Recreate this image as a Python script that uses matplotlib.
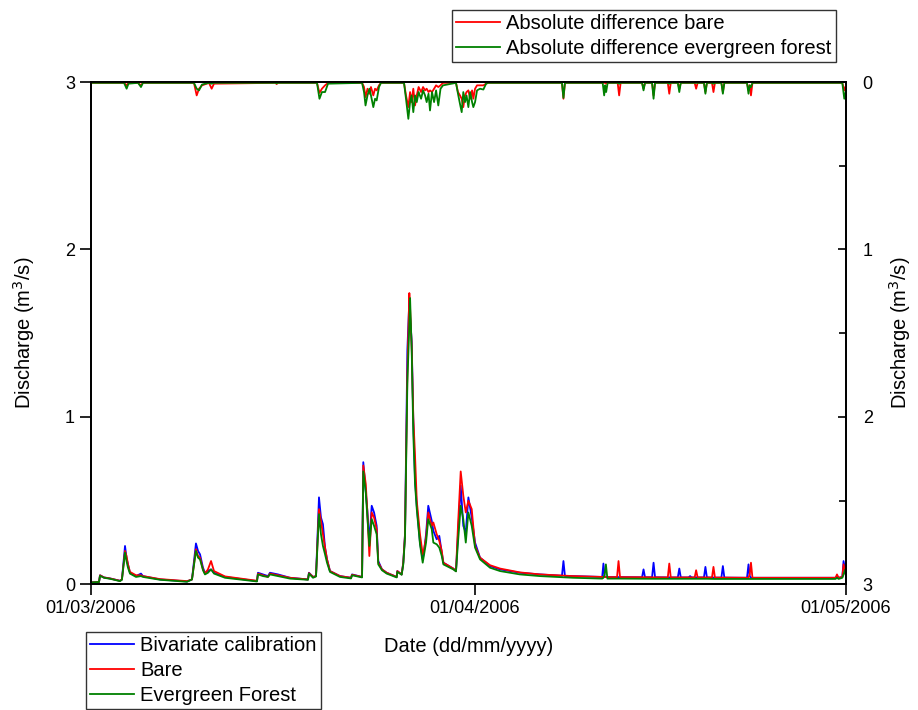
import numpy as np
import pandas as pd
import matplotlib
matplotlib.use("Agg")
from matplotlib import pyplot as plt
import matplotlib.dates as mdates

plt.rcParams['font.family'] = ['Liberation Sans', 'DejaVu Sans']

# Discharge (m3/s), time in days after 01/03/2006 00:00
days = [0.00, 0.65, 0.73, 1.05, 1.54, 2.34, 2.50, 2.75, 2.87, 2.99,
        3.15, 3.64, 4.04, 4.20, 5.58, 7.76, 8.16, 8.48, 8.65, 8.81,
        9.05, 9.21, 9.45, 9.70, 9.94, 10.83, 13.41, 13.49, 13.90, 14.30,
        14.46, 15.11, 16.08, 17.53, 17.61, 17.94, 18.18, 18.42, 18.58, 18.74,
        18.91, 19.07, 19.31, 20.12, 21.01, 21.09, 21.90, 22.00, 22.20, 22.33,
        22.49, 22.68, 22.87, 23.08, 23.21, 23.51, 23.89, 24.70, 24.75, 25.10,
        25.23, 25.37, 25.56, 25.72, 25.78, 25.91, 26.04, 26.18, 26.32, 26.58,
        26.80, 26.91, 27.07, 27.25, 27.53, 27.66, 27.93, 28.14, 28.34, 28.47,
        29.27, 29.49, 29.65, 29.87, 30.08, 30.28, 30.49, 30.76, 31.03, 31.43,
        32.24, 33.05, 34.66, 36.28, 38.05, 38.17, 38.29, 38.95, 41.14, 41.30,
        41.40, 41.50, 41.60, 41.72, 42.50, 42.62, 42.74, 44.52, 44.64, 44.76,
        45.33, 45.45, 45.57, 46.60, 46.72, 46.84, 47.41, 47.53, 47.65, 48.28,
        48.40, 48.52, 48.77, 48.89, 49.01, 49.52, 49.64, 49.76, 50.17, 50.29,
        50.41, 50.93, 51.05, 51.17, 53.00, 53.12, 53.22, 53.32, 53.44, 60.15,
        60.27, 60.40, 60.70, 60.80, 60.94, 61.00]

q_bivariate = [0.012, 0.015, 0.055, 0.042, 0.036, 0.022, 0.030, 0.230, 0.160, 0.120,
               0.070, 0.050, 0.065, 0.050, 0.030, 0.018, 0.030, 0.245, 0.200, 0.180,
               0.100, 0.070, 0.080, 0.090, 0.070, 0.045, 0.020, 0.070, 0.060, 0.050,
               0.070, 0.060, 0.040, 0.030, 0.070, 0.045, 0.050, 0.520, 0.400, 0.360,
               0.220, 0.150, 0.080, 0.050, 0.040, 0.060, 0.045, 0.730, 0.550, 0.440,
               0.250, 0.470, 0.430, 0.350, 0.140, 0.090, 0.070, 0.045, 0.080, 0.060,
               0.130, 0.300, 1.400, 1.700, 1.600, 1.450, 0.980, 0.630, 0.470, 0.250,
               0.150, 0.200, 0.300, 0.470, 0.380, 0.320, 0.270, 0.290, 0.190, 0.130,
               0.095, 0.080, 0.300, 0.590, 0.350, 0.310, 0.520, 0.400, 0.250, 0.160,
               0.110, 0.090, 0.070, 0.060, 0.052, 0.140, 0.051, 0.050, 0.045, 0.045,
               0.125, 0.045, 0.044, 0.044, 0.044, 0.044, 0.044, 0.043, 0.090, 0.043,
               0.043, 0.130, 0.043, 0.042, 0.042, 0.042, 0.042, 0.095, 0.042, 0.042,
               0.050, 0.042, 0.042, 0.042, 0.042, 0.042, 0.105, 0.042, 0.041, 0.041,
               0.041, 0.041, 0.110, 0.041, 0.040, 0.120, 0.050, 0.040, 0.040, 0.040,
               0.045, 0.040, 0.045, 0.140, 0.080, 0.050]

q_bare = [0.012, 0.015, 0.055, 0.042, 0.036, 0.022, 0.030, 0.200, 0.170, 0.120,
          0.075, 0.055, 0.055, 0.050, 0.032, 0.020, 0.030, 0.210, 0.170, 0.160,
          0.090, 0.065, 0.090, 0.140, 0.080, 0.048, 0.022, 0.065, 0.055, 0.045,
          0.065, 0.055, 0.040, 0.030, 0.068, 0.045, 0.050, 0.450, 0.380, 0.300,
          0.220, 0.150, 0.080, 0.050, 0.040, 0.058, 0.045, 0.710, 0.600, 0.430,
          0.170, 0.430, 0.400, 0.330, 0.130, 0.090, 0.070, 0.045, 0.080, 0.060,
          0.130, 0.300, 1.260, 1.740, 1.650, 1.420, 1.000, 0.770, 0.500, 0.300,
          0.180, 0.210, 0.280, 0.430, 0.350, 0.370, 0.300, 0.260, 0.200, 0.130,
          0.095, 0.080, 0.350, 0.675, 0.530, 0.430, 0.500, 0.450, 0.230, 0.160,
          0.115, 0.095, 0.072, 0.060, 0.053, 0.053, 0.052, 0.050, 0.045, 0.045,
          0.046, 0.045, 0.044, 0.044, 0.044, 0.140, 0.044, 0.043, 0.043, 0.043,
          0.043, 0.043, 0.043, 0.042, 0.125, 0.042, 0.042, 0.042, 0.042, 0.042,
          0.042, 0.042, 0.042, 0.085, 0.042, 0.042, 0.042, 0.042, 0.041, 0.105,
          0.041, 0.041, 0.041, 0.041, 0.040, 0.040, 0.060, 0.130, 0.040, 0.040,
          0.060, 0.040, 0.045, 0.120, 0.070, 0.050]

q_forest = [0.012, 0.015, 0.052, 0.040, 0.034, 0.020, 0.028, 0.190, 0.140, 0.100,
            0.065, 0.045, 0.050, 0.045, 0.028, 0.016, 0.030, 0.200, 0.160, 0.150,
            0.085, 0.060, 0.070, 0.090, 0.065, 0.040, 0.018, 0.060, 0.050, 0.045,
            0.060, 0.050, 0.035, 0.028, 0.065, 0.040, 0.048, 0.420, 0.300, 0.230,
            0.180, 0.130, 0.075, 0.045, 0.036, 0.055, 0.042, 0.675, 0.550, 0.400,
            0.230, 0.390, 0.350, 0.300, 0.120, 0.085, 0.065, 0.042, 0.075, 0.058,
            0.120, 0.280, 1.200, 1.550, 1.710, 1.400, 0.900, 0.600, 0.450, 0.240,
            0.130, 0.180, 0.250, 0.390, 0.330, 0.250, 0.240, 0.220, 0.170, 0.120,
            0.090, 0.078, 0.250, 0.470, 0.390, 0.250, 0.430, 0.350, 0.220, 0.150,
            0.100, 0.080, 0.060, 0.050, 0.043, 0.043, 0.042, 0.040, 0.035, 0.035,
            0.040, 0.060, 0.120, 0.035, 0.035, 0.035, 0.035, 0.034, 0.034, 0.034,
            0.034, 0.034, 0.034, 0.034, 0.034, 0.034, 0.034, 0.034, 0.034, 0.034,
            0.034, 0.034, 0.034, 0.034, 0.034, 0.034, 0.034, 0.034, 0.033, 0.033,
            0.033, 0.033, 0.033, 0.033, 0.033, 0.033, 0.033, 0.033, 0.033, 0.033,
            0.040, 0.033, 0.040, 0.060, 0.090, 0.050]

# Absolute differences (m3/s), right axis
diff_days = [0.00, 2.67, 2.88, 3.03, 3.80, 4.04, 4.20, 8.32, 8.54, 8.73,
             8.97, 9.53, 9.75, 9.94, 14.90, 15.00, 15.10, 18.26, 18.46, 18.66,
             18.91, 19.15, 21.90, 22.06, 22.18, 22.34, 22.50, 22.62, 22.81, 22.95,
             23.08, 23.27, 23.43, 25.29, 25.45, 25.64, 25.78, 25.90, 26.04, 26.18,
             26.32, 26.47, 26.67, 26.83, 26.99, 27.12, 27.27, 27.39, 27.55, 27.72,
             27.88, 28.06, 28.24, 28.44, 29.49, 29.65, 29.81, 29.95, 30.08, 30.22,
             30.34, 30.49, 30.63, 30.79, 30.89, 31.03, 31.19, 31.43, 31.70, 31.92,
             32.08, 38.05, 38.17, 38.29, 41.34, 41.46, 41.54, 41.62, 41.74, 42.55,
             42.67, 42.79, 44.52, 44.64, 44.76, 45.33, 45.45, 45.57, 46.60, 46.72,
             46.84, 47.41, 47.53, 47.65, 48.77, 48.89, 49.01, 49.52, 49.64, 49.76,
             50.17, 50.29, 50.41, 50.93, 51.05, 51.17, 53.00, 53.12, 53.22, 53.32,
             53.44, 60.70, 60.86, 61.00]

diff_bare = [0.005, 0.005, 0.020, 0.005, 0.005, 0.020, 0.005, 0.005, 0.080, 0.040,
             0.020, 0.005, 0.040, 0.010, 0.005, 0.012, 0.005, 0.005, 0.065, 0.040,
             0.020, 0.005, 0.005, 0.030, 0.090, 0.040, 0.070, 0.030, 0.080, 0.040,
             0.050, 0.020, 0.005, 0.005, 0.080, 0.150, 0.060, 0.120, 0.040, 0.140,
             0.080, 0.030, 0.060, 0.030, 0.050, 0.040, 0.060, 0.050, 0.060, 0.040,
             0.020, 0.030, 0.020, 0.005, 0.005, 0.060, 0.080, 0.100, 0.150, 0.080,
             0.060, 0.050, 0.100, 0.050, 0.100, 0.040, 0.020, 0.020, 0.020, 0.010,
             0.005, 0.005, 0.100, 0.005, 0.005, 0.005, 0.005, 0.010, 0.005, 0.005,
             0.080, 0.005, 0.005, 0.040, 0.005, 0.005, 0.080, 0.005, 0.005, 0.070,
             0.005, 0.005, 0.040, 0.005, 0.005, 0.040, 0.005, 0.005, 0.060, 0.005,
             0.005, 0.060, 0.005, 0.005, 0.060, 0.005, 0.005, 0.050, 0.020, 0.080,
             0.005, 0.005, 0.050, 0.020]

diff_forest = [0.005, 0.005, 0.040, 0.010, 0.005, 0.030, 0.005, 0.005, 0.040, 0.050,
               0.015, 0.005, 0.010, 0.005, 0.005, 0.008, 0.005, 0.005, 0.100, 0.060,
               0.060, 0.010, 0.005, 0.060, 0.140, 0.080, 0.040, 0.080, 0.150, 0.100,
               0.110, 0.030, 0.005, 0.005, 0.100, 0.220, 0.120, 0.080, 0.180, 0.080,
               0.120, 0.060, 0.100, 0.050, 0.080, 0.120, 0.070, 0.170, 0.060, 0.120,
               0.050, 0.140, 0.040, 0.020, 0.005, 0.070, 0.130, 0.180, 0.060, 0.120,
               0.080, 0.150, 0.060, 0.120, 0.150, 0.120, 0.050, 0.040, 0.045, 0.010,
               0.005, 0.005, 0.095, 0.005, 0.005, 0.080, 0.020, 0.060, 0.005, 0.005,
               0.010, 0.005, 0.005, 0.050, 0.005, 0.005, 0.100, 0.005, 0.005, 0.010,
               0.005, 0.005, 0.060, 0.005, 0.005, 0.005, 0.005, 0.005, 0.070, 0.005,
               0.005, 0.010, 0.005, 0.005, 0.070, 0.005, 0.005, 0.070, 0.020, 0.030,
               0.005, 0.005, 0.100, 0.050]

start = pd.Timestamp('2006-03-01')
t = start + pd.to_timedelta(days, unit='D')
td = start + pd.to_timedelta(diff_days, unit='D')

fig = plt.figure(figsize=(9.18, 7.10), dpi=100)
ax = fig.add_axes([0.0991, 0.1768, 0.8225, 0.7077])

ax.plot(t, q_bivariate, color='#0000ff', lw=1.3, label='Bivariate calibration')
ax.plot(t, q_bare, color='#ff0000', lw=1.3, label='Bare')
ax.plot(t, q_forest, color='#008000', lw=1.3, label='Evergreen Forest')

ax.set_xlim(pd.Timestamp('2006-03-01'), pd.Timestamp('2006-05-01'))
ax.set_ylim(0, 3)
ax.set_yticks([0, 1, 2, 3])
ax.set_xticks([pd.Timestamp('2006-03-01'), pd.Timestamp('2006-04-01'), pd.Timestamp('2006-05-01')])
ax.xaxis.set_major_formatter(mdates.DateFormatter('%d/%m/%Y'))
ax.tick_params(axis='both', direction='out', length=8, width=1.2, labelsize=13)
ax.set_xlabel('Date (dd/mm/yyyy)', fontsize=14.5, labelpad=14)
ax.set_ylabel('Discharge (m$^3$/s)', fontsize=14.5, labelpad=20)

ax2 = ax.twinx()
ax2.plot(td, diff_bare, color='#ff0000', lw=1.3, label='Absolute difference bare')
ax2.plot(td, diff_forest, color='#008000', lw=1.3, label='Absolute difference evergreen forest')
ax2.set_ylim(3, 0)
ax2.set_yticks([0, 1, 2, 3])
ax2.set_yticks([0.5, 1.5, 2.5], minor=True)
ax2.tick_params(axis='y', which='major', direction='in', length=6, width=1.2, labelsize=13, pad=12)
ax2.tick_params(axis='y', which='minor', direction='in', length=5, width=1.2)
ax2.set_ylabel('Discharge (m$^3$/s)', fontsize=14.5, rotation=90, labelpad=10)

for a in (ax, ax2):
    for s in a.spines.values():
        s.set_linewidth(1.3)

h1, l1 = ax.get_legend_handles_labels()
h2, l2 = ax2.get_legend_handles_labels()

leg_top = fig.legend(h2, l2, loc='upper left', bbox_to_anchor=(452 / 918, 1 - 10 / 710),
                     fontsize=14.5, frameon=True, fancybox=False, edgecolor='black',
                     borderaxespad=0, handlelength=2.2, handletextpad=0.3,
                     labelspacing=0.3, borderpad=0.2)
leg_top.get_frame().set_linewidth(1.0)

leg_bot = fig.legend(h1, l1, loc='upper left', bbox_to_anchor=(86 / 918, 1 - 632 / 710),
                     fontsize=14.5, frameon=True, fancybox=False, edgecolor='black',
                     borderaxespad=0, handlelength=2.2, handletextpad=0.3,
                     labelspacing=0.3, borderpad=0.2)
leg_bot.get_frame().set_linewidth(1.0)

fig.savefig('out.png', dpi=100)
